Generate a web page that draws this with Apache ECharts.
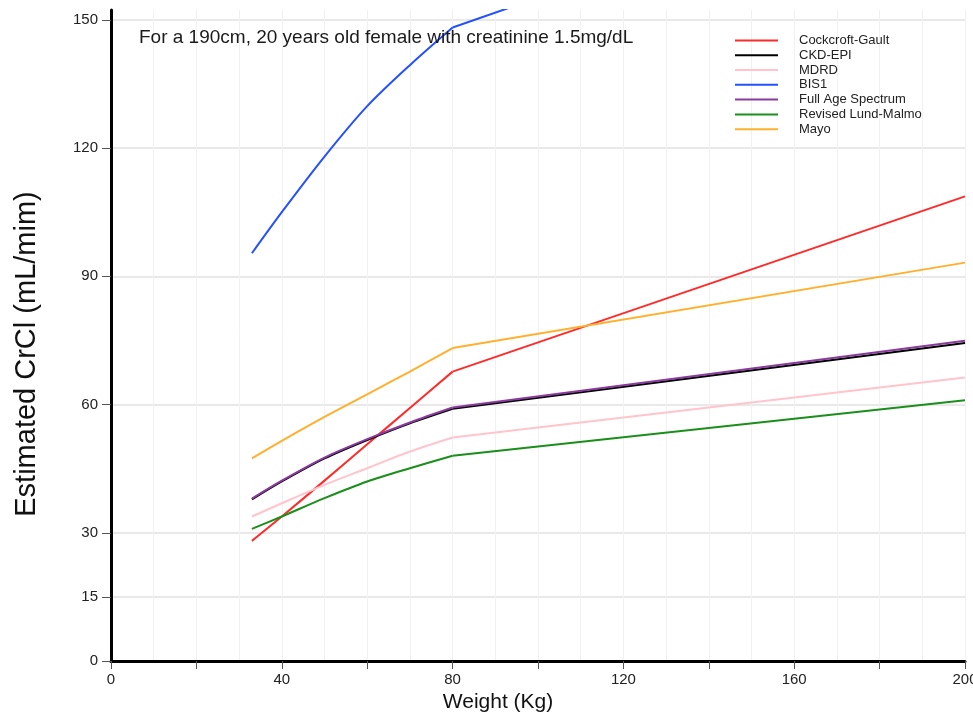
<!DOCTYPE html>
<html>
<head>
<meta charset="utf-8">
<script src="https://cdn.jsdelivr.net/npm/echarts@6/dist/echarts.min.js"></script>
<style>
  html, body { margin: 0; padding: 0; background: #fff; overflow: hidden; }
  #chart { width: 973px; height: 717px; }
</style>
</head>
<body>
<div id="chart"></div>
<script>
// Body weight (kg) at which each estimate is evaluated;
// 80 kg is the break point where the formulas change behaviour
const weights = [33, 40, 50, 60, 70, 80, 200];
const breakWeight = 80;

// Estimated creatinine clearance (mL/min) per equation
const cockcroftGault = [28.1, 33.8, 42.2, 50.7, 59.2, 67.7, 108.7];
const ckdEpi         = [37.8, 42.0, 47.4, 51.7, 55.6, 59.0, 74.4];
const mdrd           = [33.8, 36.9, 41.2, 45.1, 49.0, 52.3, 66.3];
const bis1           = [95.4, 105.0, 118.0, 129.8, 139.4, 148.2, 190.0];
const fullAgeSpec    = [38.0, 42.2, 47.6, 51.9, 55.8, 59.3, 74.9];
const lundMalmo      = [30.9, 33.8, 38.1, 42.0, 45.1, 48.0, 61.0];
const mayo           = [47.4, 51.5, 57.1, 62.4, 67.7, 73.2, 93.2];

const yTicks = [0, 15, 30, 60, 90, 120, 150];

const seriesDefs = [
  { name: 'Cockcroft-Gault',     values: cockcroftGault, color: '#ff2b2b' },
  { name: 'CKD-EPI',             values: ckdEpi,         color: '#000000' },
  { name: 'MDRD',                values: mdrd,           color: '#ffc4cc' },
  { name: 'BIS1',                values: bis1,           color: '#2450ff' },
  { name: 'Full Age Spectrum',   values: fullAgeSpec,    color: '#8b3a9e' },
  { name: 'Revised Lund-Malmo',  values: lundMalmo,      color: '#1a8f1a' },
  { name: 'Mayo',                values: mayo,           color: '#ffb02e' }
];

const font = '"Liberation Sans", Arial, sans-serif';

// Each equation is drawn as a gently curved part up to the break weight
// and a straight part beyond it; both share the legend entry.
function buildSeries(def) {
  const pts = weights.map((w, i) => [w, def.values[i]]);
  const common = {
    name: def.name,
    type: 'line',
    showSymbol: false,
    symbol: 'none',
    clip: true,
    color: def.color,
    lineStyle: { color: def.color, width: 2 }
  };
  return [
    Object.assign({}, common, { smooth: 0.3, data: pts.filter(p => p[0] <= breakWeight) }),
    Object.assign({}, common, { smooth: false, data: pts.filter(p => p[0] >= breakWeight) })
  ];
}

const chart = echarts.init(document.getElementById('chart'), null, { renderer: 'canvas' });

chart.setOption({
  animation: false,
  backgroundColor: '#ffffff',
  textStyle: { fontFamily: font },
  title: {
    text: 'For a 190cm, 20 years old female with creatinine 1.5mg/dL',
    left: 134,
    top: 23,
    textStyle: { fontFamily: font, fontSize: 19, fontWeight: 'normal', color: '#1a1a1a' }
  },
  legend: {
    orient: 'vertical',
    left: 730,
    top: 28,
    icon: 'rect',
    itemWidth: 43,
    itemHeight: 2,
    itemGap: 0,
    textStyle: { fontFamily: font, fontSize: 13, color: '#222', lineHeight: 14.8, padding: [0, 0, 0, 16] },
    data: seriesDefs.map(s => s.name)
  },
  grid: { left: 111, right: 8, top: 10, bottom: 56, containLabel: false, outerBoundsMode: 'none' },
  xAxis: {
    type: 'value',
    min: 0,
    max: 200,
    interval: 20,
    name: 'Weight (Kg)',
    nameLocation: 'middle',
    nameGap: 28,
    nameTextStyle: { fontFamily: font, fontSize: 21, color: '#111', padding: [0, 80, 0, 0] },
    axisLine: { show: true, onZero: false, lineStyle: { color: '#000', width: 3 } },
    axisTick: { show: true, length: 8, lineStyle: { color: '#555', width: 1 } },
    axisLabel: {
      fontSize: 15, color: '#222', margin: 11,
      formatter: v => (v % 40 === 0 ? String(v) : '')
    },
    splitLine: { show: true, lineStyle: { color: '#f1f1f1', width: 1 } },
    minorTick: { show: false, splitNumber: 2 },
    minorSplitLine: { show: true, lineStyle: { color: '#f1f1f1', width: 1 } }
  },
  yAxis: {
    type: 'value',
    min: 0,
    max: 152.3,
    name: 'Estimated CrCl (mL/mim)',
    nameLocation: 'middle',
    nameGap: 70,
    nameRotate: 90,
    nameTextStyle: { fontFamily: font, fontSize: 29, color: '#111', padding: [0, 37, 0, 0] },
    axisLine: { show: true, onZero: false, lineStyle: { color: '#000', width: 3 } },
    axisTick: { show: true, length: 9, customValues: yTicks, lineStyle: { color: '#555', width: 1 } },
    axisLabel: { fontSize: 15, color: '#222', margin: 13, customValues: yTicks },
    splitLine: { show: true, lineStyle: { color: '#e2e2e2', width: 1.5 } }
  },
  series: seriesDefs.flatMap(buildSeries)
});
</script>
</body>
</html>
